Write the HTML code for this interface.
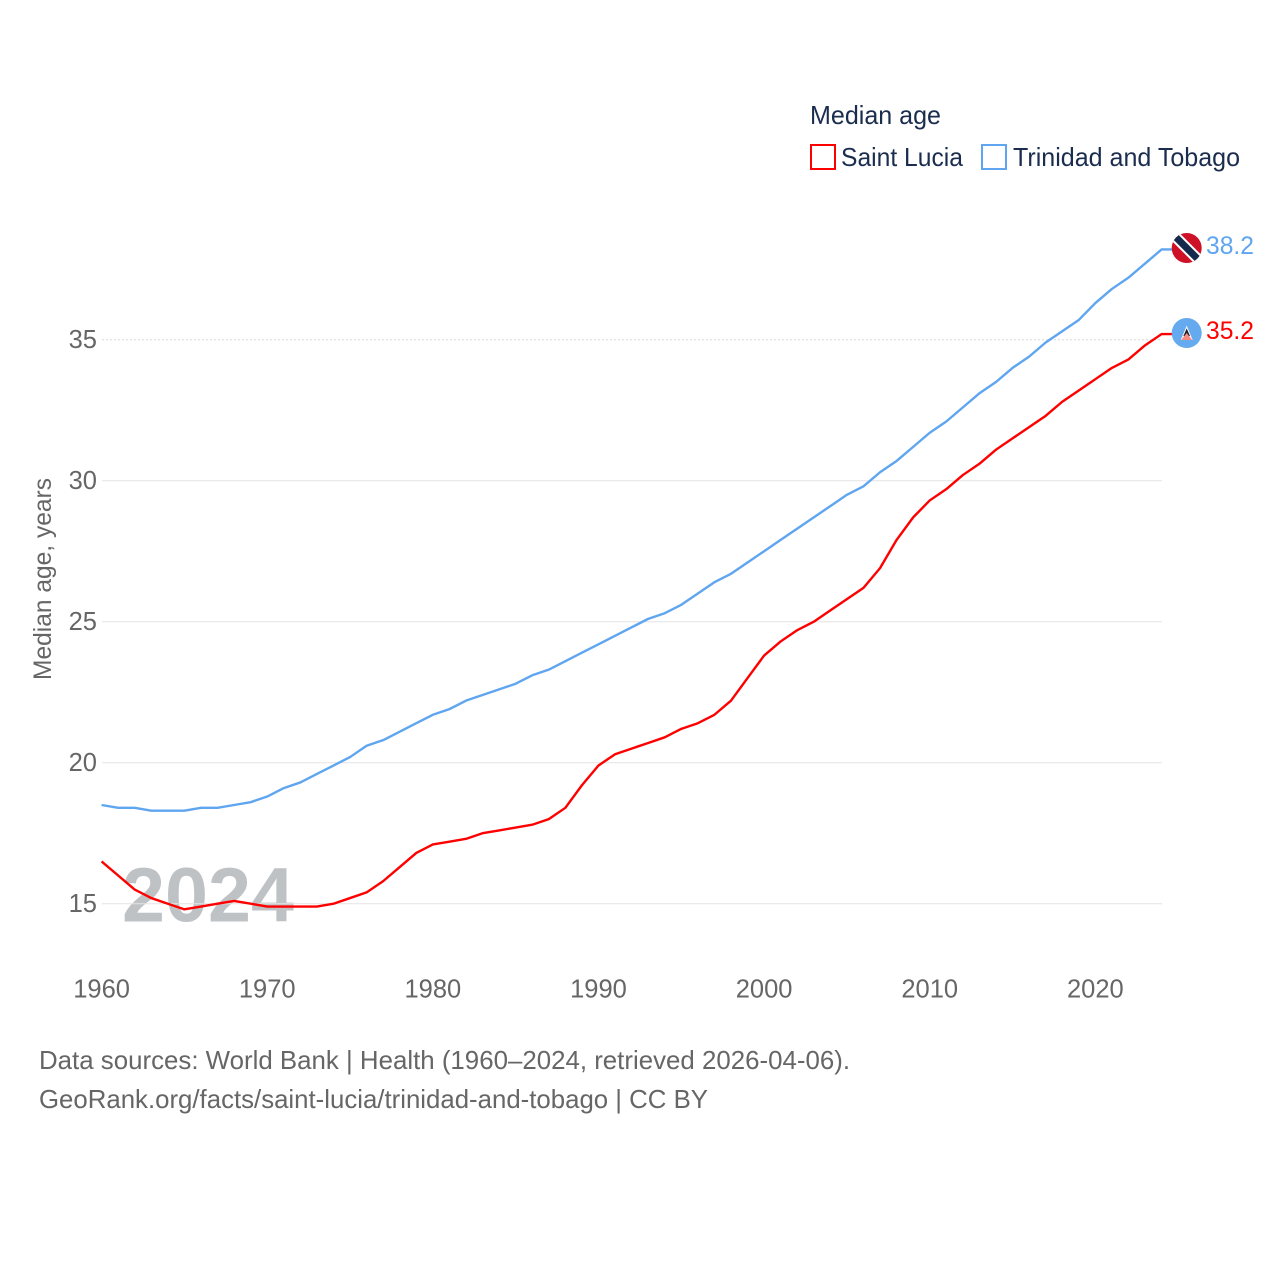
<!DOCTYPE html>
<html lang="en">
<head>
<meta charset="utf-8">
<title>Median age: Saint Lucia and Trinidad and Tobago</title>
<style>
html,body{margin:0;padding:0;background:#fff;}
svg{display:block;}
text{font-family:"Liberation Sans",sans-serif;}
</style>
</head>
<body>
<svg id="chart" width="1280" height="1280" viewBox="0 0 1280 1280" xmlns="http://www.w3.org/2000/svg">
  <defs>
    <clipPath id="clip-tt"><circle cx="1186.7" cy="248" r="15"/></clipPath>
    <clipPath id="clip-lc"><circle cx="1186.7" cy="333" r="15"/></clipPath>
  </defs>
  <rect x="0" y="0" width="1280" height="1280" fill="#fff"/>

  <text x="810" y="124" font-size="26" fill="#1b2d4f" textLength="131" lengthAdjust="spacingAndGlyphs">Median age</text>
  <rect x="811" y="145" width="24" height="24" fill="#fff" stroke="#ff0000" stroke-width="2"/>
  <text x="841" y="166" font-size="26" fill="#1b2d4f" textLength="122" lengthAdjust="spacingAndGlyphs">Saint Lucia</text>
  <rect x="982" y="145" width="24" height="24" fill="#fff" stroke="#5fa5f0" stroke-width="2"/>
  <text x="1013" y="166" font-size="26" fill="#1b2d4f" textLength="227" lengthAdjust="spacingAndGlyphs">Trinidad and Tobago</text>

  <text x="122" y="921.5" font-size="77" font-weight="bold" fill="#bfc2c5" textLength="172" lengthAdjust="spacingAndGlyphs">2024</text>

  <g id="grid"></g>
  <g id="y-ticks"></g>
  <g id="x-ticks"></g>

  <text transform="translate(51,680) rotate(-90)" font-size="25" fill="#666" textLength="202" lengthAdjust="spacingAndGlyphs">Median age, years</text>

  <g id="series"></g>

  <g clip-path="url(#clip-tt)">
    <rect x="1171" y="233" width="31" height="30" fill="#ce1126"/>
    <line x1="1171.7" y1="233" x2="1201.7" y2="263" stroke="#fff" stroke-width="11"/>
    <line x1="1171.7" y1="233" x2="1201.7" y2="263" stroke="#14294b" stroke-width="7"/>
  </g>
  <g clip-path="url(#clip-lc)">
    <rect x="1171" y="318" width="31" height="30" fill="#65a9ee"/>
    <polygon points="1186.7,325.5 1192.7,340 1180.7,340" fill="#f4f4f4"/>
    <polygon points="1186.7,328.5 1190,336 1183.4,336" fill="#20222a"/>
    <polygon points="1186.7,333 1192.2,340 1181.2,340" fill="#f58a80"/>
  </g>

  <text id="end-label-tt" x="1206" y="254" font-size="25" fill="#5fa5f0" textLength="48" lengthAdjust="spacingAndGlyphs"></text>
  <text id="end-label-lc" x="1206" y="339" font-size="25" fill="#ff0000" textLength="48" lengthAdjust="spacingAndGlyphs"></text>

  <text x="39" y="1069" font-size="26" fill="#666" textLength="811" lengthAdjust="spacingAndGlyphs">Data sources: World Bank | Health (1960–2024, retrieved 2026-04-06).</text>
  <text x="39" y="1108" font-size="26" fill="#666" textLength="669" lengthAdjust="spacingAndGlyphs">GeoRank.org/facts/saint-lucia/trinidad-and-tobago | CC BY</text>
</svg>
<script>
var startYear = 1960;
var xTickLabels = [1960, 1970, 1980, 1990, 2000, 2010, 2020];
var yTickLabels = [15, 20, 25, 30, 35];
var saintLucia = [16.5,16.0,15.5,15.2,15.0,14.8,14.9,15.0,15.1,15.0,
  14.9,14.9,14.9,14.9,15.0,15.2,15.4,15.8,16.3,16.8,
  17.1,17.2,17.3,17.5,17.6,17.7,17.8,18.0,18.4,19.2,
  19.9,20.3,20.5,20.7,20.9,21.2,21.4,21.7,22.2,23.0,
  23.8,24.3,24.7,25.0,25.4,25.8,26.2,26.9,27.9,28.7,
  29.3,29.7,30.2,30.6,31.1,31.5,31.9,32.3,32.8,33.2,
  33.6,34.0,34.3,34.8,35.2];
var trinidadAndTobago = [18.5,18.4,18.4,18.3,18.3,18.3,18.4,18.4,18.5,18.6,
  18.8,19.1,19.3,19.6,19.9,20.2,20.6,20.8,21.1,21.4,
  21.7,21.9,22.2,22.4,22.6,22.8,23.1,23.3,23.6,23.9,
  24.2,24.5,24.8,25.1,25.3,25.6,26.0,26.4,26.7,27.1,
  27.5,27.9,28.3,28.7,29.1,29.5,29.8,30.3,30.7,31.2,
  31.7,32.1,32.6,33.1,33.5,34.0,34.4,34.9,35.3,35.7,
  36.3,36.8,37.2,37.7,38.2];

var NS = 'http://www.w3.org/2000/svg';
function xScale(year) { return 101.6 + (year - 1960) * (1161.6 - 101.6) / 64; }
function yScale(v) { return 903.7 - (v - 15) * 28.2; }

function make(tag, attrs, parent) {
  var el = document.createElementNS(NS, tag);
  for (var k in attrs) { el.setAttribute(k, attrs[k]); }
  parent.appendChild(el);
  return el;
}

var gridGroup = document.getElementById('grid');
var yGroup = document.getElementById('y-ticks');
yTickLabels.forEach(function (v, i) {
  var y = yScale(v);
  var isTop = i === yTickLabels.length - 1;
  var line = make('line', {x1: 102, x2: 1162, y1: y, y2: y, stroke: isTop ? '#d8d8d8' : '#e4e4e4', 'stroke-width': 1}, gridGroup);
  if (isTop) { line.setAttribute('stroke-dasharray', '2 2'); }
  
  
  var t = make('text', {x: 97, y: y + 8.3, 'font-size': 25.5, fill: '#666', 'text-anchor': 'end'}, yGroup);
  
  
  t.textContent = v;
});

var xGroup = document.getElementById('x-ticks');
xTickLabels.forEach(function (yr) {
  var t = make('text', {x: xScale(yr), y: 997.5, 'font-size': 25.5, fill: '#666', 'text-anchor': 'middle'}, xGroup);
  
  
  t.textContent = yr;
});

function drawSeries(values, color, groupEl) {
  var pts = values.map(function (v, i) {
    return xScale(startYear + i).toFixed(2) + ',' + yScale(v).toFixed(2);
  });
  var lastY = yScale(values[values.length - 1]).toFixed(2);
  pts.push('1172,' + lastY);
  return make('polyline', {points: pts.join(' '), fill: 'none', stroke: color, 'stroke-width': 2.4, 'stroke-linejoin': 'round'}, groupEl);
}

var seriesGroup = document.getElementById('series');
var lineTT = drawSeries(trinidadAndTobago, '#5fa5f0', seriesGroup);


var lineLC = drawSeries(saintLucia, '#ff0000', seriesGroup);



document.getElementById('end-label-tt').textContent = trinidadAndTobago[trinidadAndTobago.length - 1].toFixed(1);
document.getElementById('end-label-lc').textContent = saintLucia[saintLucia.length - 1].toFixed(1);
</script>
</body>
</html>
